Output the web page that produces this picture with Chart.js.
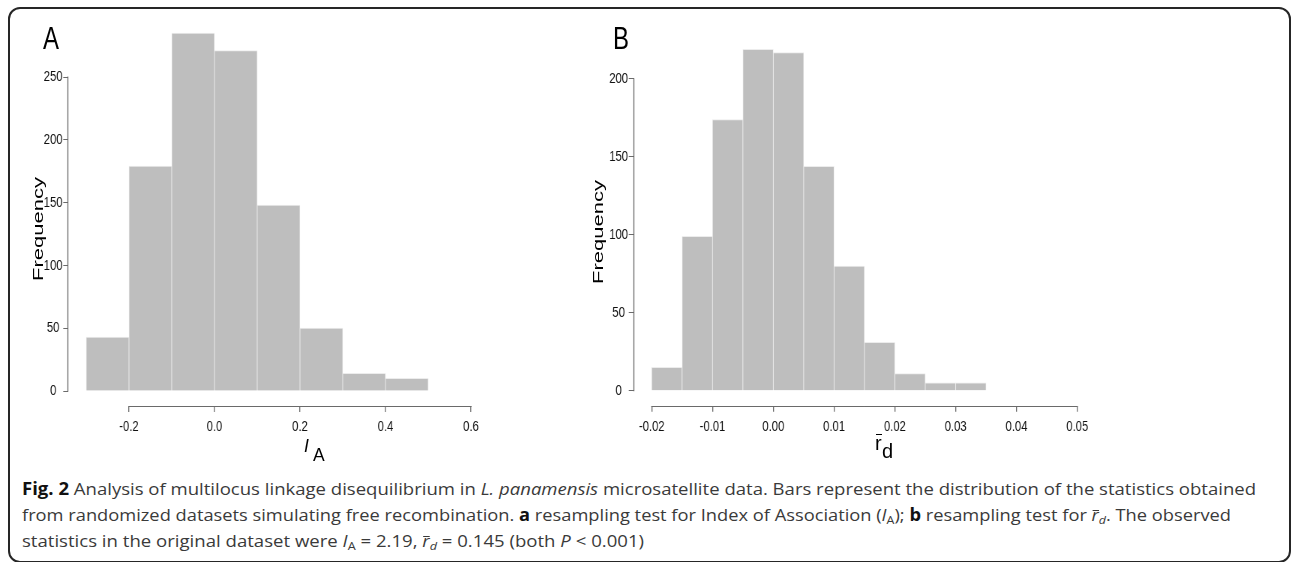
<!DOCTYPE html>
<html><head><meta charset="utf-8">
<script src="https://cdn.jsdelivr.net/npm/chart.js@4.4.0/dist/chart.umd.min.js"></script>
<style>
html,body{margin:0;padding:0;background:#fff;width:1293px;height:562px;overflow:hidden;position:relative;}
#frame{position:absolute;left:8px;top:7px;width:1283px;height:556px;border:2px solid #262626;border-radius:12px;box-sizing:border-box;}
canvas{position:absolute;top:0;transform-origin:0 0;transform:scaleX(0.75);}
.lab{position:absolute;font-family:"Liberation Sans",Arial,Helvetica,sans-serif;color:#000;white-space:nowrap;line-height:1;}
.rot{position:absolute;width:0;height:0;}
.rot span{position:absolute;left:0;top:0;transform-origin:0 0;font-family:"Liberation Sans",Arial,Helvetica,sans-serif;font-size:22px;line-height:1;white-space:nowrap;color:#000;transform:scaleX(0.7) rotate(-90deg) translate(-50%,-50%);}
.cap{position:absolute;left:22px;font-family:"Open Sans",sans-serif;font-size:17px;color:#3a3a3a;white-space:nowrap;transform-origin:0 0;line-height:1;}
.cap b{color:#111;font-weight:700;}
.cap sub{font-size:0.68em;vertical-align:-0.25em;line-height:0;}
.bar{position:relative;display:inline-block;}
.bar::before{content:"";position:absolute;left:12%;right:0;top:var(--bt,-0.05em);border-top:1px solid currentColor;}
</style></head>
<body>
<div id="frame"></div>
<canvas id="cA" width="800" height="450" style="left:0px;width:800px;height:450px;"></canvas>
<canvas id="cB" width="980" height="450" style="left:560px;width:980px;height:450px;"></canvas>

<div class="lab" style="left:43px;top:22px;font-size:32px;transform:scaleX(0.75);transform-origin:0 0;">A</div>
<div class="lab" style="left:613px;top:22px;font-size:32px;transform:scaleX(0.75);transform-origin:0 0;">B</div>
<div class="rot" style="left:38px;top:229px;"><span>Frequency</span></div>
<div class="rot" style="left:598px;top:232px;"><span>Frequency</span></div>

<div class="lab" style="left:304px;top:438px;font-size:17.5px;font-style:italic;">I</div>
<div class="lab" style="left:313px;top:447px;font-size:17.5px;">A</div>
<div class="lab" style="left:875px;top:433px;font-size:20px;"><span class="bar" style="--bt:0.05em;">r</span></div>
<div class="lab" style="left:882px;top:441px;font-size:20px;">d</div>

<div class="cap" id="l1" style="top:480px;"><b>Fig. 2</b> Analysis of multilocus linkage disequilibrium in <i>L. panamensis</i> microsatellite data. Bars represent the distribution of the statistics obtained</div>
<div class="cap" id="l2" style="top:506px;">from randomized datasets simulating free recombination. <b>a</b> resampling test for Index of Association (<i>I</i><sub>A</sub>); <b>b</b> resampling test for <i class="bar" style="--bt:0.22em;">r</i><sub><i>d</i></sub>. The observed</div>
<div class="cap" id="l3" style="top:532px;">statistics in the original dataset were <i>I</i><sub>A</sub> = 2.19, <i class="bar" style="--bt:0.22em;">r</i><sub><i>d</i></sub> = 0.145 (both <i>P</i> &lt; 0.001)</div>

<script>
// ---- data ----
const binEdgesA = [-0.3, -0.2, -0.1, 0.0, 0.1, 0.2, 0.3, 0.4, 0.5];
const freqA = [43, 179, 285, 271, 148, 50, 14, 10];
const xTicksA = [-0.2, 0.0, 0.2, 0.4, 0.6];
const yTicksA = [0, 50, 100, 150, 200, 250];

const binEdgesB = [-0.02, -0.015, -0.01, -0.005, 0.0, 0.005, 0.01, 0.015, 0.02, 0.025, 0.03, 0.035];
const freqB = [15, 99, 174, 219, 217, 144, 80, 31, 11, 5, 5];
const xTicksB = [-0.02, -0.01, 0.00, 0.01, 0.02, 0.03, 0.04, 0.05];
const yTicksB = [0, 50, 100, 150, 200];

// caption fitting
[['l1', 1256], ['l2', 1231], ['l3', 644]].forEach(([id, right]) => {
  const el = document.getElementById(id);
  const w = el.getBoundingClientRect().width;
  el.style.transform = 'scaleX(' + ((right - 22) / w) + ')';
});

const axisColor = '#6a6a6a';
const tickFont = { family: '"Liberation Sans", Arial, Helvetica, sans-serif', size: 15 };
const rAxes = {
  id: 'rAxes',
  afterDraw(chart, args, opts) {
    const ctx = chart.ctx, xs = chart.scales.x, ys = chart.scales.y;
    ctx.save();
    ctx.strokeStyle = axisColor;
    ctx.lineCap = 'butt';
    ctx.lineWidth = 1.33;
    const ax = Math.round(ys.right) - 0.5;
    ctx.beginPath();
    ctx.moveTo(ax, ys.getPixelForValue(opts.yTicks[0]) + 0.5);
    ctx.lineTo(ax, ys.getPixelForValue(opts.yTicks[opts.yTicks.length - 1]) - 0.5);
    ctx.stroke();
    ctx.lineWidth = 1;
    const ay = Math.round(xs.top) + 0.5;
    ctx.beginPath();
    ctx.moveTo(xs.getPixelForValue(opts.xTicks[0]) - 0.7, ay);
    ctx.lineTo(xs.getPixelForValue(opts.xTicks[opts.xTicks.length - 1]) + 0.7, ay);
    ctx.stroke();
    ctx.restore();
  }
};

function makeChart(id, edges, freq, xTicks, yTicks, dec, g) {
  const data = freq.map((f, i) => ({ x: (edges[i] + edges[i + 1]) / 2, y: f }));
  return new Chart(document.getElementById(id), {
    type: 'bar',
    data: { datasets: [{
      data: data,
      backgroundColor: '#bebebe',
      borderColor: '#ececec',
      borderWidth: { top: 1, left: 0.8, right: 0.8, bottom: 0 },
      barPercentage: 1, categoryPercentage: 1
    }] },
    plugins: [rAxes],
    options: {
      responsive: false, animation: false, devicePixelRatio: 1, events: [],
      layout: { padding: { top: g.padTop, right: g.padRight, left: 0, bottom: 0 } },
      plugins: { legend: { display: false }, tooltip: { enabled: false }, rAxes: { xTicks, yTicks } },
      scales: {
        x: {
          type: 'linear', offset: false, min: g.xMin, max: g.xMax,
          afterBuildTicks: s => { s.ticks = xTicks.map(v => ({ value: v })); },
          afterFit: s => { s.height = g.xHeight; },
          border: { display: false },
          grid: { display: true, offset: false, drawOnChartArea: false, drawTicks: true, tickLength: 6, color: axisColor, lineWidth: 1.33 },
          ticks: { autoSkip: false, maxRotation: 0, minRotation: 0, padding: 6, color: '#111',
                   font: tickFont, callback: v => Number(v).toFixed(dec) }
        },
        y: {
          type: 'linear', min: g.yMin, max: g.yMax,
          afterBuildTicks: s => { s.ticks = yTicks.map(v => ({ value: v })); },
          afterFit: s => { s.width = g.yWidth; },
          border: { display: false },
          grid: { display: true, offset: false, drawOnChartArea: false, drawTicks: true, tickLength: 7, color: axisColor, lineWidth: 1 },
          ticks: { autoSkip: false, padding: 1, crossAlign: 'center', color: '#111',
                   font: tickFont, callback: v => String(v) }
        }
      }
    }
  });
}

makeChart('cA', binEdgesA, freqA, xTicksA, yTicksA, 1, {
  xMin: -0.3415, xMax: 0.6, yMin: -11.94, yMax: 290,
  padTop: 26.76, padRight: 800 - 628, yWidth: 91.33, xHeight: 44
});
makeChart('cB', binEdgesB, freqB, xTicksB, yTicksB, 2, {
  xMin: -0.02291, xMax: 0.05, yMin: -9.62, yMax: 230,
  padTop: 32.2, padRight: 980 - 689.7, yWidth: 98.67, xHeight: 44.3
});
</script>
</body></html>
